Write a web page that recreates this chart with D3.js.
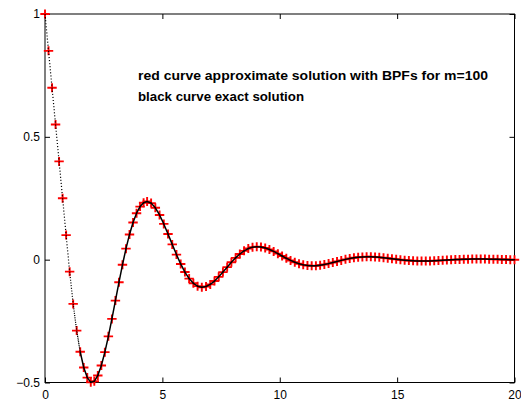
<!DOCTYPE html>
<html>
<head>
<meta charset="utf-8">
<script src="https://cdn.jsdelivr.net/npm/d3@7"></script>
<style>
	body { margin: 0; background: #fff; }
	svg { display: block; }
	.tick text { font-family: 'Liberation Sans', Arial, sans-serif; font-size: 12px; fill: #000; }
	.note { font-family: 'Liberation Sans', Arial, sans-serif; font-size: 13.5px; font-weight: bold; fill: #000; }
</style>
</head>
<body>
<div id="container"></div>
<script>
// sample times (BPF grid) and solution values
var tValues = [
	0, 0.15, 0.3, 0.45, 0.6, 0.75, 0.9, 1.05, 1.2, 1.35, 1.5, 1.65, 1.8, 1.95, 2.1,
	2.25, 2.4, 2.55, 2.7, 2.85, 3.0, 3.15, 3.3, 3.45, 3.6, 3.75, 3.9, 4.05, 4.2, 4.35,
	4.52, 4.70, 4.88, 5.06, 5.24, 5.42, 5.60, 5.78, 5.96, 6.14, 6.32, 6.50, 6.68, 6.86,
	7.04, 7.22, 7.40, 7.58, 7.76, 7.94, 8.12, 8.30, 8.48, 8.66, 8.84, 9.02, 9.20, 9.38,
	9.56, 9.74, 9.92, 10.10, 10.28, 10.46, 10.64, 10.82, 11.00, 11.18, 11.36, 11.54,
	11.72, 11.90, 12.08, 12.26, 12.44, 12.62, 12.80, 12.98, 13.16, 13.34, 13.52, 13.70,
	13.88, 14.06, 14.24, 14.42, 14.60, 14.78, 14.96, 15.14, 15.32, 15.50, 15.68, 15.86,
	16.04, 16.22, 16.40, 16.58, 16.76, 16.94, 17.12, 17.30, 17.48, 17.66, 17.84, 18.02,
	18.20, 18.38, 18.56, 18.74, 18.92, 19.10, 19.28, 19.46, 19.64, 19.82, 20.00
];

// black curve: exact solution
var exactValues = [
	1.000, 0.850, 0.700, 0.550, 0.400, 0.250, 0.100, -0.0488, -0.180, -0.2888, -0.375,
	-0.4388, -0.480, -0.4988, -0.4952, -0.4714, -0.4307, -0.3765, -0.3122, -0.2411,
	-0.1667, -0.0922, -0.0208, 0.0449, 0.1027, 0.1512, 0.1892, 0.2160, 0.2317, 0.2366,
	0.2302, 0.2111, 0.1820, 0.1455, 0.1047, 0.0622, 0.0207, -0.0174, -0.0504, -0.0770,
	-0.0962, -0.1079, -0.1120, -0.1093, -0.1006, -0.0870, -0.0699, -0.0506, -0.0305,
	-0.0108, 0.0074, 0.0231, 0.0359, 0.0452, 0.0509, 0.0530, 0.0519, 0.0479, 0.0416,
	0.0336, 0.0245, 0.0150, 0.0056, -0.0031, -0.0106, -0.0167, -0.0212, -0.0240, -0.0251,
	-0.0247, -0.0228, -0.0199, -0.0161, -0.0118, -0.0073, -0.0029, 0.0012, 0.0049, 0.0078,
	0.0100, 0.0113, 0.0119, 0.0117, 0.0109, 0.0095, 0.0077, 0.0057, 0.0036, 0.0015,
	-0.0005, -0.0022, -0.0036, -0.0047, -0.0053, -0.0056, -0.0056, -0.0052, -0.0045,
	-0.0037, -0.0028, -0.0017, -0.0007, 0.0002, 0.0010, 0.0017, 0.0022, 0.0025, 0.0027,
	0.0026, 0.0025, 0.0022, 0.0018, 0.0013, 0.0009, 0.0004, -0.0001, -0.0005
];

// red markers: BPF approximation (sits on the exact curve at this scale)
var bpfValues = exactValues.slice();

var xTicks = [0, 5, 10, 15, 20];
var yTicks = [-0.5, 0, 0.5, 1];
var yTickLabels = ['\u22120.5', '0', '0.5', '1'];

var noteLines = [
	'red curve approximate solution with BPFs for m=100',
	'black curve exact solution'
];

var width = 521,
	height = 403,
	margin = { top: 14, right: 6.5, bottom: 20.5, left: 45 },
	dotStep = 0.0125;

var svg = d3.select('#container').append('svg')
	.attr('width', width)
	.attr('height', height);

var x = d3.scaleLinear().domain([0, 20]).range([margin.left, width - margin.right]);
var y = d3.scaleLinear().domain([-0.5, 1]).range([height - margin.bottom, margin.top]);

// axes, ticks pointing inwards like matlab
function styleAxis(g) {
	g.select('.domain').remove();
	g.selectAll('.tick line').attr('stroke', '#000');
}

svg.append('g')
	.attr('transform', 'translate(0,' + y(-0.5) + ')')
	.call(d3.axisBottom(x).tickValues(xTicks).tickSizeInner(-5).tickSizeOuter(0).tickPadding(8))
	.call(styleAxis);

svg.append('g')
	.attr('transform', 'translate(0,' + y(1) + ')')
	.call(d3.axisTop(x).tickValues(xTicks).tickSizeInner(-5).tickSizeOuter(0).tickFormat(''))
	.call(styleAxis);

svg.append('g')
	.attr('transform', 'translate(' + x(0) + ',0)')
	.call(d3.axisLeft(y).tickValues(yTicks).tickSizeInner(-5).tickSizeOuter(0).tickPadding(5)
		.tickFormat(function(d, i) { return yTickLabels[i]; }))
	.call(styleAxis);

svg.append('g')
	.attr('transform', 'translate(' + x(20) + ',0)')
	.call(d3.axisRight(y).tickValues(yTicks).tickSizeInner(-5).tickSizeOuter(0).tickFormat(''))
	.call(styleAxis);

svg.append('rect')
	.attr('x', x(0))
	.attr('y', y(1))
	.attr('width', x(20) - x(0))
	.attr('height', y(-0.5) - y(1))
	.attr('fill', 'none')
	.attr('stroke', '#000')
	.attr('stroke-width', 1);

// red '+' markers
var bpfPoints = d3.zip(tValues, bpfValues);

svg.append('g')
	.selectAll('path')
	.data(bpfPoints)
	.join('path')
	.attr('transform', function(d) { return 'translate(' + x(d[0]) + ',' + y(d[1]) + ')'; })
	.attr('d', 'M-4.7,0H4.7M0,-4.5V4.5')
	.attr('stroke', '#ff0000')
	.attr('stroke-width', 1.9)
	.attr('fill', 'none');

// black curve, drawn as a run of small dots: where it is steep the dots separate
var exactPoints = d3.zip(tValues, exactValues);

svg.append('g')
	.selectAll('line')
	.data(d3.pairs(exactPoints))
	.join('line')
	.attr('x1', function(d) { return x(d[0][0]); })
	.attr('y1', function(d) { return y(d[0][1]); })
	.attr('x2', function(d) { return x(d[1][0]); })
	.attr('y2', function(d) { return y(d[1][1]); })
	.attr('stroke', '#000')
	.each(function(d) {
		var len = Math.hypot(x(d[1][0]) - x(d[0][0]), y(d[1][1]) - y(d[0][1]));
		var gap = len / ((d[1][0] - d[0][0]) / dotStep);
		var line = d3.select(this);
		if (gap > 1.6) {
			line.attr('stroke-width', 1.2).attr('stroke-dasharray', '1.1,' + (gap - 1.1).toFixed(2));
		} else {
			line.attr('stroke-width', 1.5).attr('stroke-linecap', 'round');
		}
	});

// annotation
svg.selectAll('text.note')
	.data(noteLines)
	.join('text')
	.attr('class', 'note')
	.attr('x', 138)
	.attr('y', function(d, i) { return 80 + i * 21; })
	.attr('textLength', function(d, i) { return i == 0 ? 350 : 166; })
	.attr('lengthAdjust', 'spacingAndGlyphs')
	.text(function(d) { return d; });
</script>
</body>
</html>
